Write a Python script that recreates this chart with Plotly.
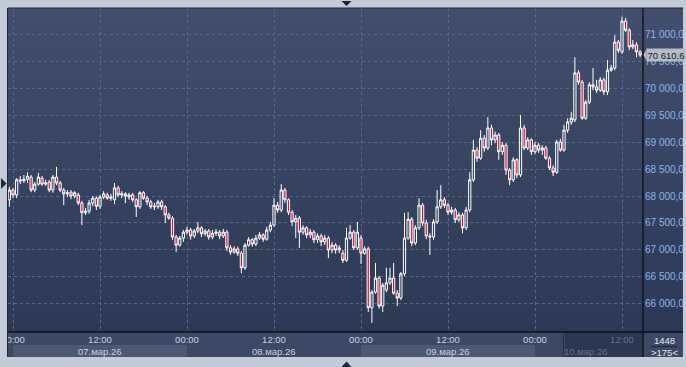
import plotly.graph_objects as go
import pandas as pd

# ---------------- data (30-minute candles) ----------------
start_time = "2026-03-06 23:30"
n_candles = 175

open_ = [67930, 68110, 68020, 68300, 68280, 68310, 68350, 68110, 68220, 68330,
         68220, 68260, 68110, 68350, 68240, 68110, 68040, 68070, 68000, 68020,
         67870, 67690, 67720, 67870, 67960, 67810, 67980, 68020, 67960, 67930,
         68150, 68020, 68040, 67980, 68020, 67930, 67800, 68060, 67960, 67890,
         67800, 67800, 67890, 67800, 67650, 67590, 67240, 67090, 67220, 67330,
         67370, 67260, 67350, 67410, 67300, 67350, 67240, 67310, 67330, 67260,
         67330, 67040, 66960, 67020, 66940, 66670, 67090, 67190, 67110, 67220,
         67280, 67200, 67370, 67460, 67830, 67740, 68110, 67930, 67700, 67520,
         67590, 67330, 67410, 67280, 67330, 67190, 67260, 67150, 67220, 67000,
         67090, 67000, 66940, 66810, 67220, 67330, 67040, 67220, 66940, 67020,
         65930, 66220, 66480, 65960, 66260, 66390, 66480, 66200, 66110, 66560,
         67220, 67570, 67130, 67410, 67830, 67500, 67260, 67240, 67520, 67800,
         67930, 67830, 67700, 67740, 67560, 67650, 67410, 67740, 68300, 68850,
         68700, 69070, 68890, 69260, 69040, 69130, 68820, 68940, 68480, 68300,
         68670, 68390, 69260, 68890, 69040, 68820, 68940, 68850, 68890, 68700,
         68520, 68440, 69000, 68850, 69220, 69370, 69410, 70280, 70110, 69440,
         69740, 70060, 70020, 69960, 70150, 69930, 70330, 70370, 70850, 70670,
         71240, 71070, 70760, 70800, 70670]

high = [68170, 68150, 68330, 68370, 68390, 68440, 68390, 68260, 68430, 68370,
        68300, 68300, 68390, 68540, 68280, 68150, 68110, 68110, 68090, 68060,
        67910, 67780, 67930, 68000, 68000, 68020, 68090, 68060, 68040, 68240,
        68190, 68090, 68070, 68060, 68060, 67960, 68090, 68090, 68000, 67930,
        67870, 67930, 67930, 67830, 67690, 67630, 67280, 67260, 67370, 67430,
        67410, 67390, 67520, 67440, 67390, 67390, 67370, 67390, 67370, 67390,
        67370, 67090, 67070, 67060, 66980, 67130, 67240, 67220, 67280, 67330,
        67310, 67430, 67520, 67960, 67890, 68220, 68150, 67960, 67740, 67650,
        67630, 67460, 67440, 67390, 67370, 67310, 67300, 67280, 67260, 67150,
        67130, 67090, 67000, 67410, 67460, 67370, 67520, 67280, 67070, 67060,
        66260, 66760, 66520, 66390, 66670, 66670, 66760, 66260, 66590, 67690,
        67700, 67610, 67460, 67960, 67870, 67560, 67310, 67570, 68110, 68200,
        67980, 67870, 67800, 67780, 67700, 67690, 67800, 68440, 69040, 68910,
        69220, 69130, 69460, 69320, 69190, 69170, 69000, 68980, 68520, 68720,
        68700, 69500, 69320, 69090, 69070, 69000, 68980, 68940, 68930, 68740,
        68570, 69040, 69060, 69320, 69440, 69560, 70570, 70330, 70150, 69780,
        70110, 70370, 70150, 70200, 70190, 70520, 70430, 70980, 70890, 71320,
        71300, 71110, 70890, 70850, 70700]

low = [67800, 67960, 67960, 68220, 68240, 68240, 68070, 68070, 68190, 68190,
       68190, 68070, 68060, 68200, 68070, 67830, 67980, 67940, 67960, 67830,
       67460, 67650, 67670, 67810, 67740, 67760, 67940, 67930, 67910, 67850,
       67980, 67960, 67870, 67930, 67890, 67610, 67760, 67930, 67830, 67760,
       67740, 67760, 67740, 67500, 67560, 67190, 66960, 67060, 67150, 67280,
       67190, 67220, 67310, 67240, 67260, 67190, 67200, 67260, 67200, 67220,
       66980, 66910, 66930, 66890, 66570, 66630, 67060, 67060, 67070, 67190,
       67150, 67170, 67330, 67430, 67690, 67700, 67870, 67650, 67440, 67220,
       67040, 67280, 67220, 67220, 67130, 67130, 67070, 67090, 66850, 66940,
       66930, 66940, 66760, 66780, 67190, 67000, 67000, 66740, 66910, 65850,
       65650, 66190, 65910, 65850, 66220, 66350, 66170, 65960, 66070, 66520,
       67190, 67070, 67090, 67370, 67440, 67200, 66910, 67190, 67480, 67760,
       67780, 67650, 67650, 67500, 67520, 67310, 67370, 67700, 68260, 68630,
       68670, 68820, 68850, 68940, 68980, 68670, 68760, 68390, 68200, 68260,
       68330, 68350, 68850, 68850, 68760, 68780, 68800, 68760, 68670, 68480,
       68370, 68410, 68820, 68820, 69170, 69320, 69370, 70060, 69410, 69410,
       69700, 69960, 69910, 69930, 69870, 69870, 70300, 70330, 70650, 70630,
       71040, 70700, 70720, 70570, 70570]

close = [68110, 68020, 68300, 68280, 68310, 68370, 68110, 68220, 68350, 68220,
         68240, 68110, 68350, 68240, 68110, 68040, 68060, 68000, 68060, 67870,
         67690, 67720, 67870, 67960, 67810, 67980, 68040, 67960, 67980, 68150,
         68020, 68040, 68000, 68020, 67930, 67800, 68060, 67960, 67890, 67800,
         67810, 67890, 67800, 67650, 67590, 67240, 67090, 67220, 67330, 67370,
         67260, 67350, 67410, 67300, 67350, 67240, 67310, 67330, 67260, 67330,
         67040, 66960, 67020, 66940, 66670, 67090, 67190, 67110, 67220, 67280,
         67200, 67370, 67460, 67830, 67740, 68110, 67930, 67700, 67520, 67590,
         67330, 67410, 67280, 67330, 67190, 67260, 67150, 67220, 67000, 67090,
         67000, 67040, 66810, 67220, 67330, 67040, 67330, 66940, 67020, 65930,
         66220, 66480, 65960, 66350, 66390, 66480, 66200, 66110, 66560, 67220,
         67570, 67130, 67410, 67830, 67500, 67260, 67240, 67520, 67800, 67930,
         67830, 67700, 67740, 67560, 67650, 67410, 67740, 68300, 68850, 68700,
         69070, 68890, 69260, 69040, 69130, 68820, 68940, 68480, 68300, 68670,
         68390, 69260, 68890, 69040, 68820, 68940, 68850, 68890, 68700, 68520,
         68440, 69000, 68850, 69220, 69370, 69440, 70280, 70110, 69440, 69740,
         70060, 70020, 69960, 70150, 69930, 70330, 70370, 70850, 70700, 71240,
         71070, 70760, 70800, 70670, 70610.6]

last_price = 70610.6
y_ticks = [66000, 66500, 67000, 67500, 68000, 68500, 69000, 69500, 70000, 70500, 71000]
x_ticks = ["2026-03-07 00:00", "2026-03-07 12:00", "2026-03-08 00:00", "2026-03-08 12:00",
           "2026-03-09 00:00", "2026-03-09 12:00", "2026-03-10 00:00", "2026-03-10 12:00"]
x_tick_labels = ["00:00", "12:00", "00:00", "12:00", "00:00", "12:00", "00:00", "12:00"]
day_labels = ["07.мар.26", "08.мар.26", "09.мар.26", "10.мар.26"]
day_label_pos = ["2026-03-07 12:00", "2026-03-08 12:00", "2026-03-09 12:00", "2026-03-10 07:00"]
total_bars = "1448"
visible_bars = ">175<"

times = pd.date_range(start_time, periods=n_candles, freq="30min")

# ---------------- figure ----------------
W, H = 686, 367
L, R, T, B = 8, 43, 8, 35
pw, ph = W - L - R, H - T - B


def px_x(px):
    return (px - L) / pw


def px_y(py):
    return (H - B - py) / ph


fig = go.Figure()
fig.add_trace(go.Candlestick(
    x=times, open=open_, high=high, low=low, close=close,
    increasing=dict(line=dict(color="#ffffff", width=1), fillcolor="rgba(0,0,0,0)"),
    decreasing=dict(line=dict(color="#ffffff", width=1), fillcolor="#d0123e"),
    whiskerwidth=0, hoverinfo="skip", showlegend=False,
))

shapes = []
# gradient background for plot area + right panel
n = 36
top_c = (65, 79, 108)
bot_c = (44, 57, 85)
for k in range(n):
    f = k / (n - 1)
    c = tuple(round(top_c[j] + (bot_c[j] - top_c[j]) * f) for j in range(3))
    shapes.append(dict(type="rect", xref="paper", yref="paper", layer="below",
                       x0=0, x1=px_x(683), y0=1 - (k + 1) / n, y1=1 - k / n,
                       line=dict(width=0), fillcolor="rgb(%d,%d,%d)" % c))
# axis area rows
row1_top, row1_bot, row2_bot = px_y(332), px_y(345), px_y(357)
shapes.append(dict(type="rect", xref="paper", yref="paper", layer="below",
                   x0=0, x1=px_x(683), y0=row2_bot, y1=row1_top,
                   line=dict(width=0), fillcolor="#3c4964"))
for d0, d1 in [("2026-03-07 00:00", "2026-03-08 00:00"), ("2026-03-09 00:00", "2026-03-10 00:00")]:
    shapes.append(dict(type="rect", xref="x", yref="paper", layer="below",
                       x0=d0, x1=d1, y0=row2_bot, y1=row1_bot,
                       line=dict(width=0), fillcolor="#4b5973"))
shapes.append(dict(type="rect", xref="x", yref="paper", layer="below",
                   x0="2026-03-10 04:10", x1="2026-03-11 00:00", y0=row2_bot, y1=row1_top,
                   line=dict(width=0), fillcolor="#2b3651"))
shapes.append(dict(type="line", xref="x", yref="paper", layer="below",
                   x0="2026-03-10 03:55", x1="2026-03-10 03:55", y0=row2_bot, y1=row1_top - 0.004,
                   line=dict(width=1, color="#252e42")))
# bottom-right counter box
shapes.append(dict(type="rect", xref="paper", yref="paper", layer="below",
                   x0=1, x1=px_x(683), y0=row2_bot, y1=row1_top,
                   line=dict(width=0), fillcolor="#3c4964"))
shapes.append(dict(type="line", xref="paper", yref="paper", layer="above",
                   x0=px_x(651), x1=px_x(677), y0=px_y(346.5), y1=px_y(346.5),
                   line=dict(width=1, color="#1e2636")))
# frame lines
shapes.append(dict(type="line", xref="paper", yref="paper", layer="above",
                   x0=1, x1=1, y0=row2_bot, y1=1, line=dict(width=1.3, color="#0c0f16")))
shapes.append(dict(type="line", xref="paper", yref="paper", layer="above",
                   x0=0, x1=px_x(683), y0=0, y1=0, line=dict(width=1.3, color="#0c0f16")))
shapes.append(dict(type="line", xref="paper", yref="paper", layer="above",
                   x0=0, x1=px_x(683), y0=1, y1=1, line=dict(width=1, color="#1f2736")))
# outer light frame (covers overflowing labels)
frame_c = "#c2cbd8"
shapes.append(dict(type="rect", xref="paper", yref="paper", layer="above",
                   x0=px_x(0), x1=px_x(7.5), y0=px_y(367), y1=px_y(0),
                   line=dict(width=0), fillcolor=frame_c))
shapes.append(dict(type="rect", xref="paper", yref="paper", layer="above",
                   x0=px_x(683), x1=px_x(686), y0=px_y(367), y1=px_y(0),
                   line=dict(width=0), fillcolor=frame_c))
shapes.append(dict(type="line", xref="paper", yref="paper", layer="above",
                   x0=px_x(7.5), x1=px_x(7.5), y0=row2_bot, y1=1, line=dict(width=1, color="#1f2736")))
# navigation triangles
tri_c = "#1c2533"
def tri(pts):
    p = "M " + " L ".join("%f,%f" % (px_x(a), px_y(b)) for a, b in pts) + " Z"
    return dict(type="path", xref="paper", yref="paper", layer="above", path=p,
                line=dict(width=0), fillcolor=tri_c)
shapes.append(tri([(341.5, 1), (351.5, 1), (346.5, 6)]))
shapes.append(tri([(341.5, 367), (351.5, 367), (346.5, 361.5)]))
shapes.append(tri([(1, 178), (1, 189), (6.5, 183.5)]))
# price pointer
shapes.append(dict(type="path", xref="paper", yref="y", layer="above",
                   path="M %f,%f L %f,%f L %f,%f Z" % (px_x(643.5), last_price, px_x(646.5), last_price + 110,
                                                     px_x(646.5), last_price - 110),
                   line=dict(width=0), fillcolor="#b5bcc7"))

annotations = []
for lbl, pos in zip(day_labels, day_label_pos):
    dim = lbl == day_labels[-1]
    annotations.append(dict(x=pos, xref="x", y=px_y(351.5), yref="paper", text=lbl,
                            showarrow=False, xanchor="center", yanchor="middle",
                            font=dict(family="Liberation Sans, Arial", size=9.5,
                                      color="#66758c" if dim else "#c8d2e0")))
annotations.append(dict(x=px_x(646), xref="paper", y=last_price, yref="y",
                        text=f"{last_price:,.1f}".replace(",", " ").replace(".", ","),
                        showarrow=False, xanchor="left", yanchor="middle",
                        bgcolor="#b5bcc7", borderpad=0.5,
                        font=dict(family="Liberation Sans, Arial", size=9.5, color="#1a1d24")))
annotations.append(dict(x=px_x(664), xref="paper", y=px_y(340), yref="paper", text=total_bars,
                        showarrow=False, xanchor="center", yanchor="middle",
                        font=dict(family="Liberation Sans, Arial", size=9.5, color="#e2e8f0")))
annotations.append(dict(x=px_x(664), xref="paper", y=px_y(352.5), yref="paper", text=visible_bars,
                        showarrow=False, xanchor="center", yanchor="middle",
                        font=dict(family="Liberation Sans, Arial", size=9.5, color="#e2e8f0")))

x_text = [t if i < len(x_tick_labels) - 1 else "<span style='color:#66758c'>%s</span>" % t
          for i, t in enumerate(x_tick_labels)]

fig.update_layout(
    width=W, height=H,
    margin=dict(l=L, r=R, t=T, b=B, pad=0, autoexpand=False),
    paper_bgcolor=frame_c, plot_bgcolor="rgba(0,0,0,0)",
    shapes=shapes, annotations=annotations,
    showlegend=False, boxgap=0.12,
    xaxis=dict(type="date", range=["2026-03-06 23:18:36", "2026-03-10 14:53:48"],
               rangeslider=dict(visible=False), automargin=False,
               tickvals=x_ticks, ticktext=x_text, ticks="",
               tickfont=dict(family="Liberation Sans, Arial", size=9.5, color="#c8d2e0"),
               ticklabeloverflow="allow",
               showgrid=True, gridcolor="#5a6885", griddash="3px,3px", gridwidth=1,
               zeroline=False, showline=False, fixedrange=True),
    yaxis=dict(side="right", range=[65481, 71482], automargin=False,
               tickvals=y_ticks,
               ticktext=[f"{v:,.2f}".replace(",", " ").replace(".", ",") for v in y_ticks],
               ticks="", ticklabelstandoff=1, ticklabeloverflow="allow",
               tickfont=dict(family="Liberation Sans, Arial", size=10, color="#8db5ea"),
               showgrid=True, gridcolor="#5a6885", griddash="3px,3px", gridwidth=1,
               zeroline=False, showline=False, fixedrange=True),
)

fig.write_html("out.html")
